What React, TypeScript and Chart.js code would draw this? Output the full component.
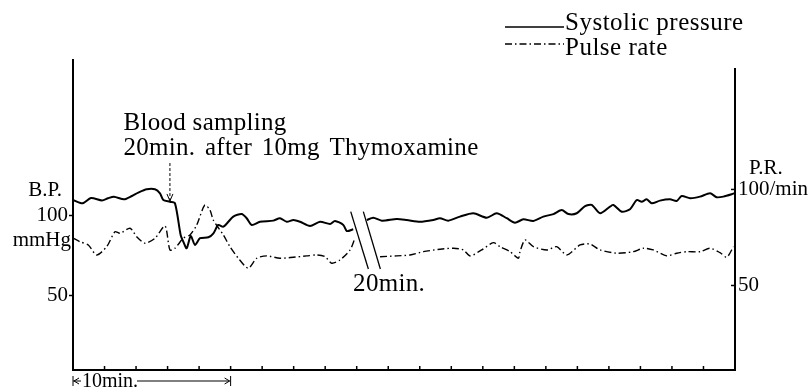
import React, { useEffect, useRef } from "react";
import { Chart, registerables } from "chart.js";

Chart.register(...registerables);

const FONT = '"Liberation Serif", "Times New Roman", serif';

// Time in minutes (x axis spans 0..42, tick every 2 min)
const BP_TIME = [
  0, 0.6, 1.14, 1.84, 2.22, 2.6, 3.24, 3.74, 4.14, 4.68, 5.2, 5.52, 5.73, 6.15, 6.47,
  6.83, 7.0, 7.21, 7.47, 7.74, 8.06, 8.59, 8.91, 9.22, 9.54, 10.17, 10.7, 11.02, 11.34,
  11.86, 12.71, 13.13, 13.56, 13.98, 14.4, 15.04, 15.67, 16.31, 16.62, 17.15, 17.37, 17.78,
  18.1,
  18.64, 19.05, 19.59, 20.54, 21.17, 22.02, 22.86, 23.28, 23.81, 24.55, 25.4, 26.25, 26.88,
  27.52, 28.04, 28.57, 29.21, 29.84, 30.48, 31.01, 31.43, 31.96, 32.49, 32.91, 33.44, 34.07,
  34.28, 34.81, 35.34, 35.77, 36.08, 36.4, 36.72, 37.24, 37.88, 38.3, 38.62, 39.15, 39.78,
  40.42, 40.84, 41.26, 41.79, 42,
];
// Systolic pressure, mmHg (left axis); null = 20 min break
const BP_VALUE = [
  109.7, 107.6, 110.9, 109.4, 110.8, 111.8, 110.1, 112.2, 114.3, 116.4, 116.4, 113.9, 109.7,
  108.6, 107.6, 87.8, 83.6, 79.5, 87.2, 81.6, 85.8, 86.4, 88.9, 94.1, 93.0, 99.3, 100.9, 98.3,
  94.1, 96.1, 96.8, 98.3, 96.1, 97.2, 96.1, 93.4, 96.1, 94.7, 96.6, 94.1, 90.3, 91.4,
  null,
  97.2, 98.6, 96.8, 97.8, 97.2, 96.1, 97.2, 98.3, 96.8, 99.3, 101.4, 98.6, 101.4, 98.3, 95.5,
  97.6, 96.6, 99.3, 100.9, 103.4, 100.9, 101.4, 105.9, 106.6, 101.4, 105.5, 106.6, 102.4,
  103.9, 109.7, 108.6, 110.1, 107.6, 109.3, 110.1, 109.1, 112.2, 110.8, 111.8, 113.9, 111.4,
  111.8, 113.3, 114.1,
];

const PR_TIME = [
  0.02, 0.44, 0.97, 1.5, 2.14, 2.66, 2.98, 3.62, 4.04, 4.57, 5.2, 5.84, 6.15, 6.47, 7.0, 7.42,
  7.85, 8.36, 8.69, 8.9, 9.54, 9.96, 10.49, 11.12, 11.66, 12.29, 13.13, 13.98, 14.83, 15.46,
  15.99, 16.42, 16.94, 17.58, 17.89,
  18.6,
  19.48, 20.54, 21.38, 22.23, 23.29, 24.13, 24.77, 25.19, 25.93, 26.67, 27.09, 27.73, 28.26,
  28.36, 28.68, 29.21, 30.06, 30.69, 31.33, 32.17, 32.8, 33.44, 34.5, 35.55, 36.19, 36.82,
  37.67, 38.3, 38.94, 39.78, 40.42, 41.05, 41.48, 41.9,
];
// Pulse rate, /min (right axis); null = 20 min break
const PR_VALUE = [
  74.6, 72.8, 71.1, 65.9, 70.2, 78.0, 77.2, 79.8, 75.4, 72.0, 74.6, 81.0, 68.5, 69.4, 74.6,
  76.3, 81.5, 91.9, 89.3, 84.1, 76.3, 70.2, 64.2, 59.0, 64.2, 65.4, 64.2, 64.7, 65.4, 65.9,
  65.0, 61.6, 63.3, 68.5, 74.7,
  null,
  65.0, 65.4, 65.9, 67.6, 68.9, 69.4, 68.5, 65.4, 68.5, 72.3, 70.2, 67.6, 64.2, 67.6, 73.7,
  70.2, 68.5, 70.2, 65.9, 71.1, 71.6, 68.5, 66.8, 67.6, 69.4, 68.5, 65.4, 66.8, 67.6, 67.6,
  69.4, 67.1, 64.7, 70.2,
];

const X_MIN = 0;
const X_MAX = 42;
const X_TICKS = [2, 4, 6, 8, 10, 12, 14, 16, 18, 20, 22, 24, 26, 28, 30, 32, 34, 36, 38, 40];
const LEFT_MIN = 3.44;
const LEFT_MAX = 197.2;
const LEFT_TICKS = [50, 100];
const RIGHT_MIN = 6.0;
const RIGHT_MAX = 167.4;
const RIGHT_TICKS = [50, 100];
const RIGHT_TICK_LABELS = ["50", "100/min"];
const SERIES_LABELS = ["Systolic pressure", "Pulse rate"];

const PULSE_DASH = [7, 3, 1.5, 3];

const overlay = {
  id: "overlay",
  afterDraw(chart: any) {
    const ctx = chart.ctx as CanvasRenderingContext2D;
    const { left, right, top, bottom } = chart.chartArea;
    const xs = chart.scales.x;
    const ys = chart.scales.y;
    const y1 = chart.scales.y1;
    ctx.save();
    ctx.strokeStyle = "#000";
    ctx.fillStyle = "#000";
    ctx.setLineDash([]);

    // x ticks (inward)
    ctx.lineWidth = 1.5;
    X_TICKS.forEach((t) => {
      const px = xs.getPixelForValue(t);
      ctx.beginPath();
      ctx.moveTo(px, bottom);
      ctx.lineTo(px, bottom - 4);
      ctx.stroke();
    });

    // right axis line + inward ticks
    ctx.lineWidth = 2;
    ctx.beginPath();
    ctx.moveTo(right, top + 8);
    ctx.lineTo(right, bottom + 1);
    ctx.stroke();
    ctx.lineWidth = 1.5;
    RIGHT_TICKS.forEach((v) => {
      const py = y1.getPixelForValue(v);
      ctx.beginPath();
      ctx.moveTo(right, py);
      ctx.lineTo(right - 4, py);
      ctx.stroke();
    });

    // axis titles
    ctx.font = `21px ${FONT}`;
    ctx.textBaseline = "middle";
    ctx.textAlign = "right";
    const y100 = ys.getPixelForValue(100);
    ctx.fillText("B.P.", left - 11, y100 - 25);
    ctx.fillText("mmHg", left - 2, y100 + 25);
    ctx.textAlign = "left";
    ctx.fillText("P.R.", right + 14, y1.getPixelForValue(100) - 21);

    // annotation text
    ctx.font = `25px ${FONT}`;
    ctx.textBaseline = "alphabetic";
    (ctx as any).letterSpacing = "0.3px";
    (ctx as any).wordSpacing = "0px";
    ctx.fillText("Blood sampling", xs.getPixelForValue(3.2), ys.getPixelForValue(153.4));
    (ctx as any).wordSpacing = "3px";
    ctx.fillText("20min. after 10mg Thymoxamine", xs.getPixelForValue(3.2), ys.getPixelForValue(137.8));
    (ctx as any).wordSpacing = "0px";
    ctx.fillText("20min.", xs.getPixelForValue(17.77), ys.getPixelForValue(52.8));
    (ctx as any).letterSpacing = "0px";

    // arrow
    const ax = xs.getPixelForValue(6.15);
    const ay0 = ys.getPixelForValue(132.8);
    const ay1 = ys.getPixelForValue(109.1);
    ctx.lineWidth = 1;
    ctx.setLineDash([3, 2]);
    ctx.beginPath();
    ctx.moveTo(ax, ay0);
    ctx.lineTo(ax, ay1);
    ctx.stroke();
    ctx.setLineDash([]);
    ctx.beginPath();
    ctx.moveTo(ax - 3, ay1 - 7);
    ctx.lineTo(ax, ay1);
    ctx.lineTo(ax + 3, ay1 - 7);
    ctx.stroke();

    // break marks
    ctx.lineWidth = 1.3;
    [[17.62, 18.74], [18.42, 19.5]].forEach(([t0, t1]) => {
      ctx.beginPath();
      ctx.moveTo(xs.getPixelForValue(t0), ys.getPixelForValue(102.4));
      ctx.lineTo(xs.getPixelForValue(t1), ys.getPixelForValue(66.6));
      ctx.stroke();
    });

    // 10 min scale bar below axis
    const bx0 = xs.getPixelForValue(0);
    const bx1 = xs.getPixelForValue(10);
    const by = bottom + 11;
    ctx.lineWidth = 1;
    ctx.beginPath();
    ctx.moveTo(bx0, by - 5);
    ctx.lineTo(bx0, by + 5);
    ctx.moveTo(bx1, by - 5);
    ctx.lineTo(bx1, by + 5);
    ctx.moveTo(bx0, by);
    ctx.lineTo(bx0 + 8, by);
    ctx.moveTo(bx0 + 6, by - 3);
    ctx.lineTo(bx0 + 1, by);
    ctx.lineTo(bx0 + 6, by + 3);
    ctx.moveTo(bx0 + 64, by);
    ctx.lineTo(bx1 - 1, by);
    ctx.moveTo(bx1 - 6, by - 3);
    ctx.lineTo(bx1 - 1, by);
    ctx.lineTo(bx1 - 6, by + 3);
    ctx.stroke();
    ctx.font = `20px ${FONT}`;
    ctx.textBaseline = "middle";
    ctx.textAlign = "left";
    ctx.fillText("10min.", bx0 + 9, by + 1);

    // legend
    const ds = chart.data.datasets;
    ctx.font = `25px ${FONT}`;
    (ctx as any).letterSpacing = "0.5px";
    ctx.textBaseline = "alphabetic";
    const legendRows = [
      { lineY: 27, textY: 30 },
      { lineY: 44, textY: 55 },
    ];
    ds.forEach((d: any, i: number) => {
      const r = legendRows[i];
      ctx.lineWidth = i === 0 ? 1.5 : 1.3;
      ctx.setLineDash(d.borderDash || []);
      ctx.beginPath();
      ctx.moveTo(505, r.lineY);
      ctx.lineTo(564, r.lineY);
      ctx.stroke();
      ctx.setLineDash([]);
      ctx.fillText(d.label, 565, r.textY);
    });
    (ctx as any).letterSpacing = "0px";
    ctx.restore();
  },
};

export default function App() {
  const ref = useRef<HTMLCanvasElement | null>(null);
  useEffect(() => {
    if (!ref.current) return;
    const chart = new Chart(ref.current, {
      type: "line",
      data: {
        datasets: [
          {
            label: SERIES_LABELS[0],
            data: BP_TIME.map((t, i) => ({ x: t, y: BP_VALUE[i] })),
            yAxisID: "y",
            borderColor: "#000",
            borderWidth: 2,
            pointRadius: 0,
            tension: 0.25,
            spanGaps: false,
            fill: false,
          },
          {
            label: SERIES_LABELS[1],
            data: PR_TIME.map((t, i) => ({ x: t, y: PR_VALUE[i] })),
            yAxisID: "y1",
            borderColor: "#000",
            borderWidth: 1.4,
            borderDash: PULSE_DASH,
            pointRadius: 0,
            tension: 0.25,
            spanGaps: false,
            fill: false,
          },
        ],
      },
      options: {
        animation: false,
        responsive: false,
        devicePixelRatio: 1,
        layout: { padding: { top: 60, left: 0, right: 0, bottom: 0 } },
        plugins: {
          legend: { display: false },
          tooltip: { enabled: false },
        },
        scales: {
          x: {
            type: "linear",
            min: X_MIN,
            max: X_MAX,
            ticks: { display: false },
            grid: { display: true, drawOnChartArea: false, drawTicks: false },
            border: { display: true, color: "#000", width: 2 },
            afterFit: (s: any) => {
              s.height = 22;
            },
          },
          y: {
            type: "linear",
            position: "left",
            min: LEFT_MIN,
            max: LEFT_MAX,
            afterBuildTicks: (s: any) => {
              s.ticks = LEFT_TICKS.map((v) => ({ value: v }));
            },
            ticks: {
              color: "#000",
              font: { family: FONT, size: 21 },
              padding: 1,
              callback: (v: any) => String(v),
            },
            grid: {
              display: true,
              drawOnChartArea: false,
              drawTicks: true,
              tickLength: 4,
              tickWidth: 1.5,
              tickColor: "#000",
            },
            border: { display: true, color: "#000", width: 2 },
            afterFit: (s: any) => {
              s.width = 73;
            },
          },
          y1: {
            type: "linear",
            position: "right",
            min: RIGHT_MIN,
            max: RIGHT_MAX,
            afterBuildTicks: (s: any) => {
              s.ticks = RIGHT_TICKS.map((v) => ({ value: v }));
            },
            ticks: {
              color: "#000",
              font: { family: FONT, size: 21 },
              padding: 3,
              callback: (_v: any, i: number) => RIGHT_TICK_LABELS[i],
            },
            grid: { display: true, drawOnChartArea: false, drawTicks: false },
            border: { display: false },
            afterFit: (s: any) => {
              s.width = 76;
            },
          },
        },
      },
      plugins: [overlay],
    });
    return () => chart.destroy();
  }, []);
  return (
    <div style={{ position: "absolute", left: 0, top: 0, width: 811, height: 392, background: "#fff" }}>
      <canvas ref={ref} width={811} height={392} style={{ display: "block", width: 811, height: 392 }} />
    </div>
  );
}
